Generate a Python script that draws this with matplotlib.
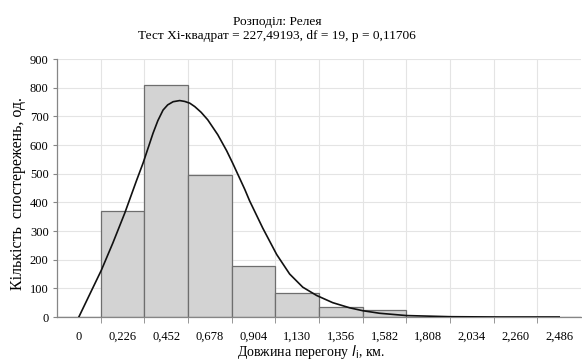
import matplotlib
matplotlib.use('Agg')
import matplotlib.pyplot as plt

STEP = 0.226
CENTERS = [0, 0.226, 0.452, 0.678, 0.904, 1.130, 1.356, 1.582, 1.808, 2.034, 2.260, 2.486]
LABELS = ['0', '0,226', '0,452', '0,678', '0,904', '1,130', '1,356', '1,582',
          '1,808', '2,034', '2,260', '2,486']
COUNTS = [0, 371, 810, 496, 178, 83, 34, 24, 0, 0, 0, 0]

# theoretical curve
CURVE_X = [0.000, 0.057, 0.117, 0.176, 0.238, 0.298, 0.333, 0.384, 0.409, 0.436,
           0.460, 0.488, 0.522, 0.548, 0.574, 0.600, 0.633, 0.667, 0.719, 0.765,
           0.796, 0.859, 0.884, 0.952, 1.024, 1.091, 1.159, 1.231, 1.314, 1.402,
           1.469, 1.557, 1.696, 1.924, 2.177, 2.486]
CURVE_Y = [0, 80, 164, 258, 363, 475, 538, 641, 685, 722,
           740, 751, 755, 752, 746, 734, 714, 688, 636, 580,
           537, 445, 405, 310, 218, 150, 104, 75, 50, 32,
           22, 13, 5, 1, 0, 0]

TITLE = 'Розподіл: Релея\nТест Хі-квадрат = 227,49193, df = 19, p = 0,11706'

plt.rcParams['font.family'] = ['Liberation Serif', 'DejaVu Serif']

fig = plt.figure(figsize=(5.82, 3.6), dpi=100)
ax = fig.add_axes([57/582, 1-317/360, 524/582, 258/360])

ax.bar(CENTERS, COUNTS, width=STEP, color='#d3d3d3', edgecolor='#6e6e6e',
       linewidth=0.9, zorder=2)
ax.plot(CURVE_X, CURVE_Y, color='#111111', linewidth=1.2, zorder=3,
        solid_joinstyle='round')

ax.set_xlim(CENTERS[0] - STEP/2, CENTERS[-1] + STEP/2)
ax.set_ylim(0, 900)
ax.set_yticks(range(0, 901, 100))

# labels sit in the middle of each category, tick marks on the boundaries
ax.set_xticks(CENTERS)
ax.set_xticklabels(LABELS)
ax.set_xticks([c + STEP/2 for c in CENTERS[:-1]], minor=True)
ax.tick_params(axis='x', which='major', length=0, pad=10, labelsize=9)
ax.tick_params(axis='x', which='minor', length=4, color='#868686', direction='out')
ax.tick_params(axis='y', length=3, color='#868686', labelsize=9, pad=3)

ax.grid(False)
ax.xaxis.grid(True, which='minor', color='#e4e4e4', linewidth=0.8, zorder=0)
ax.yaxis.grid(True, which='major', color='#e4e4e4', linewidth=0.8, zorder=0)
ax.set_axisbelow(True)
for s in ['top', 'right']:
    ax.spines[s].set_visible(False)
for s in ['left', 'bottom']:
    ax.spines[s].set_color('#868686')
    ax.spines[s].set_linewidth(0.9)

fig.text(277/582, 1-29/360, TITLE, ha='center', va='center', fontsize=9.6,
         linespacing=1.15)
fig.text(311/582, 1-352/360, 'Довжина перегону $\\mathit{l}_\\mathrm{i}$, км.',
         ha='center', va='center', fontsize=10)
fig.text(18/582, 1-194/360, 'Кількість  спостережень, од.', rotation=90,
         ha='center', va='center', fontsize=11.5)

fig.savefig('out.png', dpi=100)
